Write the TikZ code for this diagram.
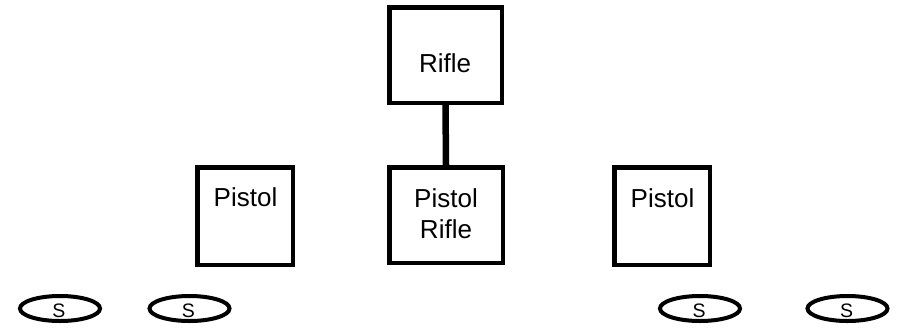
\documentclass[tikz,border=0pt]{standalone}
\usepackage{fontspec}
\setmainfont{Liberation Sans}
\usetikzlibrary{shapes.geometric}
\begin{document}
\begin{tikzpicture}[x=1pt,y=-1pt,
  box/.style={draw=black,line width=4.5pt,fill=white,inner sep=0pt,rectangle},
  lbl/.style={font=\fontsize{26}{30}\selectfont,anchor=base,inner sep=0pt},
  sell/.style={draw=black,line width=4pt,ellipse,inner sep=0pt,minimum width=80pt,minimum height=25pt},
  stxt/.style={font=\fontsize{19.5}{22}\selectfont,anchor=base,inner sep=0pt},
  link/.style={draw=black,line width=6.5pt}]
\useasboundingbox (0,0) rectangle (899,333);
\node[box,minimum width=112.5pt,minimum height=95.5pt] (rifle) at (445.5,55) {};
\node[box,minimum width=113.5pt,minimum height=95.5pt] (pr) at (446,215) {};
\node[box,minimum width=95.5pt,minimum height=97.5pt] (pl) at (245,216) {};
\node[box,minimum width=95.5pt,minimum height=97.5pt] (prt) at (662,216) {};
\draw[link] (rifle.south) -- (pr.north);
\node[lbl] (t1) at (445,72) {Rifle};
\node[lbl] (t2) at (245.5,206) {Pistol};
\node[lbl] (t3) at (446,207) {Pistol};
\node[lbl] (t4) at (446,238) {Rifle};
\node[lbl] (t5) at (662.5,207) {Pistol};
\node[sell] (s1) at (60,308.5) {};
\node[sell] (s2) at (189.5,308.5) {};
\node[sell] (s3) at (700,308.5) {};
\node[sell] (s4) at (847.5,308.5) {};
\node[stxt] (l1) at (59,317) {S};
\node[stxt] (l2) at (188.5,317) {S};
\node[stxt] (l3) at (699,317) {S};
\node[stxt] (l4) at (846.5,317) {S};
\end{tikzpicture}
\end{document}
